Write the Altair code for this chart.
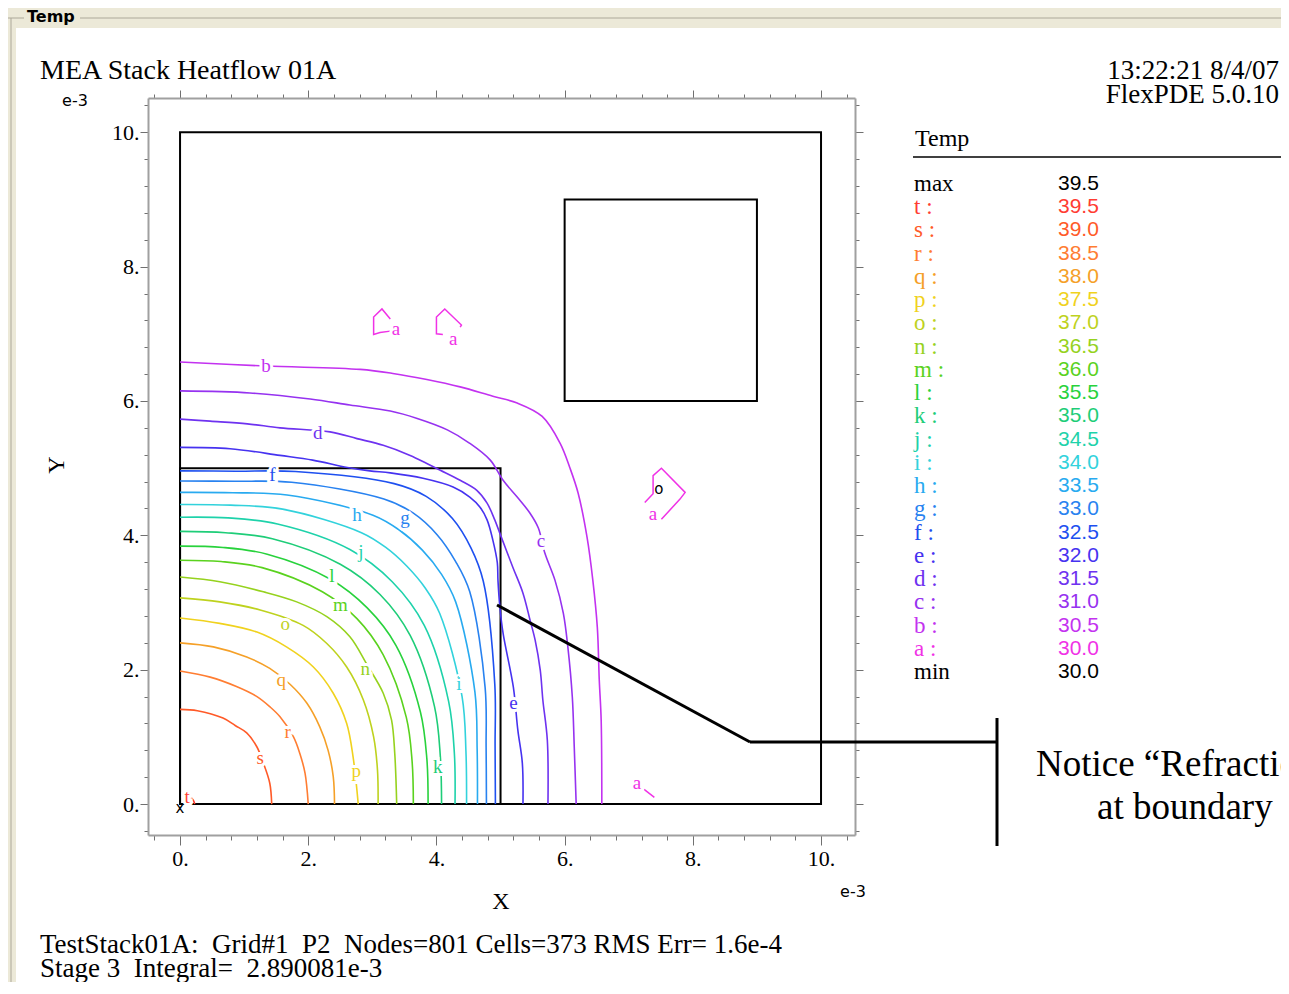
import altair as alt
import pandas as pd

# ---------------- contour data (x, y in units of 1e-3) ----------------
T_X = [0.17, 0.21, 0.23]
T_Y = [0.10, 0.05, 0.00]
S_X = [0.00, 0.27, 0.67, 0.86, 1.04, 1.20, 1.30, 1.40, 1.43]
S_Y = [1.41, 1.39, 1.28, 1.17, 1.06, 0.85, 0.61, 0.31, 0.00]
R_X = [0.00, 0.47, 0.88, 1.20, 1.40, 1.56, 1.77, 1.87, 1.95, 2.00]
R_Y = [1.98, 1.89, 1.75, 1.60, 1.45, 1.30, 1.00, 0.75, 0.46, 0.00]
Q_X = [0.00, 0.52, 1.04, 1.40, 1.72, 1.98, 2.18, 2.31, 2.39, 2.41]
Q_Y = [2.40, 2.34, 2.19, 2.02, 1.78, 1.50, 1.15, 0.80, 0.41, 0.00]
P_X = [0.00, 0.62, 1.20, 1.66, 2.08, 2.39, 2.60, 2.70, 2.78]
P_Y = [2.77, 2.69, 2.56, 2.34, 2.04, 1.65, 1.20, 0.70, 0.00]
O_X = [0.00, 0.62, 1.25, 1.92, 2.29, 2.60, 2.86, 3.02, 3.08, 3.09]
O_Y = [3.07, 3.01, 2.89, 2.66, 2.39, 2.04, 1.55, 1.00, 0.51, 0.00]
N_X = [0.00, 0.62, 1.30, 1.82, 2.29, 2.65, 2.92, 3.17, 3.30, 3.35, 3.38]
N_Y = [3.38, 3.31, 3.16, 3.01, 2.79, 2.49, 2.07, 1.65, 1.25, 0.75, 0.00]
M_X = [0.00, 0.64, 1.28, 2.22, 2.76, 3.17, 3.53, 3.62, 3.64]
M_Y = [3.63, 3.61, 3.52, 3.16, 2.76, 2.22, 1.29, 0.64, 0.00]
L_X = [0.00, 0.67, 1.36, 2.34, 2.92, 3.37, 3.75, 3.85, 3.87]
L_Y = [3.84, 3.82, 3.72, 3.35, 2.92, 2.36, 1.37, 0.68, 0.00]
K_X = [0.00, 0.71, 1.44, 2.50, 3.12, 3.59, 3.97, 4.06, 4.08]
K_Y = [4.06, 4.04, 3.95, 3.57, 3.12, 2.51, 1.45, 0.72, 0.00]
J_X = [0.00, 0.75, 1.52, 2.65, 3.31, 3.81, 4.19, 4.28, 4.29]
J_Y = [4.27, 4.26, 4.17, 3.79, 3.31, 2.66, 1.53, 0.75, 0.00]
I_X = [0.00, 0.79, 1.60, 2.83, 3.21, 3.54, 3.83, 4.05, 4.40, 4.46, 4.47]
I_Y = [4.46, 4.45, 4.39, 4.04, 3.82, 3.54, 3.21, 2.84, 1.60, 0.79, 0.00]
H_X = [0.00, 0.82, 1.67, 3.01, 3.42, 3.78, 4.08, 4.30, 4.60, 4.635, 4.64]
H_Y = [4.64, 4.635, 4.60, 4.30, 4.08, 3.78, 3.42, 3.01, 1.67, 0.82, 0.00]
G_X = [0.00, 0.85, 1.74, 3.18, 3.64, 4.01, 4.30, 4.52, 4.76, 4.775, 4.78]
G_Y = [4.81, 4.805, 4.79, 4.54, 4.33, 4.01, 3.61, 3.16, 1.73, 0.84, 0.00]
F_X = [0.00, 0.87, 1.80, 3.34, 3.84, 4.25, 4.54, 4.73, 4.91, 4.915, 4.92]
F_Y = [4.96, 4.955, 4.95, 4.77, 4.58, 4.25, 3.81, 3.32, 1.79, 0.87, 0.00]
E_X = [0.00, 0.78, 1.56, 2.07, 2.61, 2.96, 3.28, 3.79, 4.26, 4.52, 4.68, 4.79, 4.88, 4.95,
       4.96, 4.99, 5.04, 5.20, 5.27, 5.34, 5.35]
E_Y = [5.31, 5.29, 5.19, 5.12, 5.01, 4.96, 4.93, 4.85, 4.72, 4.57, 4.42, 4.23, 3.93, 3.59,
       3.33, 2.93, 2.54, 1.74, 1.10, 0.61, 0.00]
D_X = [0.00, 0.47, 1.05, 1.56, 2.34, 2.76, 3.17, 3.59, 3.85, 4.06, 4.37, 4.63, 4.79, 4.91,
       4.99, 5.19, 5.35, 5.46, 5.54, 5.62, 5.66, 5.73, 5.74]
D_Y = [5.73, 5.70, 5.66, 5.60, 5.54, 5.44, 5.34, 5.19, 5.07, 4.97, 4.82, 4.67, 4.48, 4.23,
       4.03, 3.53, 3.14, 2.74, 2.44, 1.99, 1.55, 0.95, 0.00]
C_X = [0.00, 1.09, 2.03, 2.65, 3.28, 3.70, 4.17, 4.52, 4.84, 5.04, 5.26, 5.46, 5.59, 5.69,
       5.85, 5.98, 6.05, 6.12, 6.15, 6.18]
C_Y = [6.15, 6.12, 6.03, 5.94, 5.85, 5.74, 5.57, 5.37, 5.12, 4.82, 4.57, 4.33, 4.11, 3.74,
       3.33, 2.84, 2.34, 1.59, 0.85, 0.00]
B_X = [0.00, 1.34, 2.81, 3.32, 3.85, 4.37, 4.88, 5.26, 5.65, 5.93, 6.08, 6.21, 6.35, 6.44,
       6.51, 6.54, 6.57, 6.58]
B_Y = [6.58, 6.52, 6.47, 6.41, 6.32, 6.21, 6.07, 5.97, 5.77, 5.37, 5.01, 4.63, 3.97, 3.33,
       2.63, 1.85, 1.25, 0.00]

# small fragments of level "a" (30.0)
A1_X = [3.28, 3.15, 3.02, 3.02, 3.12, 3.28]
A1_Y = [7.22, 7.37, 7.25, 6.99, 7.02, 7.04]
A2_X = [4.10, 4.00, 4.00, 4.13, 4.39, 4.37]
A2_Y = [6.99, 7.00, 7.25, 7.37, 7.13, 7.10]
A3_X = [7.25, 7.38, 7.38, 7.51, 7.88, 7.80, 7.51]
A3_Y = [4.49, 4.62, 4.89, 5.00, 4.64, 4.54, 4.24]
A4_X = [7.24, 7.40]
A4_Y = [0.22, 0.10]

# legend
LEVELS = ["t", "s", "r", "q", "p", "o", "n", "m", "l", "k", "j", "i", "h", "g", "f", "e", "d", "c", "b", "a"]
LEVEL_VALUES = ["39.5", "39.0", "38.5", "38.0", "37.5", "37.0", "36.5", "36.0", "35.5", "35.0",
                "34.5", "34.0", "33.5", "33.0", "32.5", "32.0", "31.5", "31.0", "30.5", "30.0"]
LEVEL_COLORS = ["#FF3C32", "#FF5A28", "#FF7D32", "#F5A028", "#F0D21E", "#BED21E", "#96D21E",
                "#5AD21E", "#28D23C", "#1ECD78", "#1ED2AA", "#32D2DC", "#28AAF0", "#2882F0",
                "#1E50F0", "#4632F0", "#6E32F0", "#9632F0", "#C332F0", "#F032E6"]
MAX_VALUE = "39.5"
MIN_VALUE = "30.0"

# contour labels
LABEL_TEXT = ["b", "d", "f", "h", "g", "j", "l", "m", "o", "n", "q", "r", "s", "t", "p", "k", "i",
              "e", "c", "a", "a", "a", "a"]
LABEL_X = [1.34, 2.15, 1.44, 2.76, 3.51, 2.82, 2.37, 2.50, 1.64, 2.89, 1.58, 1.68, 1.25, 0.11,
           2.75, 4.02, 4.35, 5.20, 5.63, 3.37, 4.26, 7.38, 7.13]
LABEL_Y = [6.52, 5.52, 4.90, 4.30, 4.26, 3.75, 3.39, 2.96, 2.68, 2.01, 1.85, 1.07, 0.68, 0.10,
           0.49, 0.55, 1.79, 1.50, 3.91, 7.07, 6.93, 4.32, 0.31]

# region boxes
BOX_X0 = [0, 0, 6]
BOX_X1 = [10, 5, 9]
BOX_Y0 = [0, 0, 6]
BOX_Y1 = [10, 5, 9]

# ---------------- build tables ----------------
contours = {"t": (T_X, T_Y), "s": (S_X, S_Y), "r": (R_X, R_Y), "q": (Q_X, Q_Y), "p": (P_X, P_Y),
            "o": (O_X, O_Y), "n": (N_X, N_Y), "m": (M_X, M_Y), "l": (L_X, L_Y), "k": (K_X, K_Y),
            "j": (J_X, J_Y), "i": (I_X, I_Y), "h": (H_X, H_Y), "g": (G_X, G_Y), "f": (F_X, F_Y),
            "e": (E_X, E_Y), "d": (D_X, D_Y), "c": (C_X, C_Y), "b": (B_X, B_Y)}
rows = []
for lev, (xs, ys) in contours.items():
    for i, (x, y) in enumerate(zip(xs, ys)):
        rows.append({"level": lev, "seg": lev, "i": i, "x": x, "y": y})
contour_df = pd.DataFrame(rows)

frag_rows = []
for sid, (xs, ys) in enumerate([(A1_X, A1_Y), (A2_X, A2_Y), (A3_X, A3_Y), (A4_X, A4_Y)]):
    for i, (x, y) in enumerate(zip(xs, ys)):
        frag_rows.append({"level": "a", "seg": f"a{sid}", "i": i, "x": x, "y": y})
frag_df = pd.DataFrame(frag_rows)

label_df = pd.DataFrame({"t": LABEL_TEXT, "x": LABEL_X, "y": LABEL_Y})
box_df = pd.DataFrame({"x0": BOX_X0, "x1": BOX_X1, "y0": BOX_Y0, "y1": BOX_Y1})
marker_df = pd.DataFrame({"t": ["x", "o"], "x": [0.0, 7.47], "y": [-0.06, 4.69]})
corner_df = pd.DataFrame({"x": [0, 10], "y": [0, 10]})

XS = alt.Scale(domain=[-0.5, 10.53], nice=False, zero=False)
YS = alt.Scale(domain=[-0.46, 10.51], nice=False, zero=False)
COLOR = alt.Scale(domain=LEVELS, range=LEVEL_COLORS)
W, H = 707, 737
OX, OY = 148, 98  # page position of plot area
SVG_W, SVG_H = 1273, 974
PAD_L, PAD_T = OX - 8, OY - 8


def px(v):
    return v - OX


def py(v):
    return v - OY


ONE = pd.DataFrame({"k": [0]})


def text(s, x, y, size, font="Liberation Serif", color="black", align="left",
         baseline="alphabetic", weight="normal", angle=None):
    props = dict(text=s, fontSize=size, font=font, color=color, align=align,
                 baseline=baseline, fontWeight=weight)
    if angle is not None:
        props["angle"] = angle
    return alt.Chart(ONE).mark_text(**props).encode(x=alt.value(px(x)), y=alt.value(py(y)))


def seg(x1, y1, x2, y2, color="black", width=1.0):
    return alt.Chart(ONE).mark_rule(color=color, strokeWidth=width).encode(
        x=alt.value(px(x1)), y=alt.value(py(y1)), x2=alt.value(px(x2)), y2=alt.value(py(y2)))


def rect(x1, y1, x2, y2, color):
    return alt.Chart(ONE).mark_rect(color=color).encode(
        x=alt.value(px(x1)), y=alt.value(py(y1)), x2=alt.value(px(x2)), y2=alt.value(py(y2)))


# ---------------- axes ----------------
TICKS = [round(0.4 * k, 1) for k in range(-1, 27)]
MAJOR = "abs(datum.value - 2*round(datum.value/2)) < 0.01"
LBL = MAJOR + " ? format(datum.value, 'd') + '.' : ''"


def tsize(major, minor):
    return {"condition": {"test": MAJOR, "value": major}, "value": minor}


common = dict(values=TICKS, grid=False, title=None, domainColor="#a0a0a0", domainWidth=2,
              tickColor="#707070", tickWidth=1)
ax_bottom = alt.Axis(orient="bottom", labelExpr=LBL, tickSize=tsize(10, 5), labelOverlap=False,
                     labelFont="Liberation Serif", labelFontSize=22, labelColor="black",
                     labelPadding=3, **common)
ax_left = alt.Axis(orient="left", labelExpr=LBL, tickSize=tsize(8, 4), labelOverlap=False,
                   labelFont="Liberation Serif", labelFontSize=22, labelColor="black",
                   labelPadding=1, **common)
ax_top = alt.Axis(orient="top", labels=False, tickSize=tsize(8, 4), **common)
ax_right = alt.Axis(orient="right", labels=False, tickSize=tsize(8, 4), **common)

axes1 = alt.Chart(corner_df).mark_point(opacity=0).encode(
    x=alt.X("x:Q", scale=XS, axis=ax_bottom), y=alt.Y("y:Q", scale=YS, axis=ax_left))
axes2 = alt.Chart(corner_df).mark_point(opacity=0).encode(
    x=alt.X("x:Q", scale=XS, axis=ax_top), y=alt.Y("y:Q", scale=YS, axis=ax_right))

xq = alt.X("x:Q", scale=XS, axis=None)
yq = alt.Y("y:Q", scale=YS, axis=None)

boxes = alt.Chart(box_df).mark_rect(fillOpacity=0, stroke="black", strokeWidth=2).encode(
    x=alt.X("x0:Q", scale=XS, axis=None), x2="x1:Q",
    y=alt.Y("y0:Q", scale=YS, axis=None), y2="y1:Q")

lines = alt.Chart(contour_df).mark_line(strokeWidth=1.6, interpolate="catmull-rom").encode(
    x=xq, y=yq, color=alt.Color("level:N", scale=COLOR, legend=None),
    detail="seg:N", order="i:Q")

frags = alt.Chart(frag_df).mark_line(strokeWidth=1.5).encode(
    x=xq, y=yq, color=alt.Color("level:N", scale=COLOR, legend=None),
    detail="seg:N", order="i:Q")

halo = alt.Chart(label_df).mark_text(font="Liberation Serif", fontSize=19, color="white",
                                     stroke="white", strokeWidth=6, baseline="middle").encode(
    x=xq, y=yq, text="t:N")
labels = alt.Chart(label_df).mark_text(font="Liberation Serif", fontSize=19,
                                       baseline="middle").encode(
    x=xq, y=yq, text="t:N", color=alt.Color("t:N", scale=COLOR, legend=None))
markers = alt.Chart(marker_df).mark_text(font="DejaVu Sans", fontSize=15, color="black",
                                         baseline="middle").encode(x=xq, y=yq, text="t:N")

# ---------------- decorations ----------------
GB = "#ACA899"
BEIGE = "#ECE9D8"
NB = "\u00a0"
deco = [
    rect(8, 8, 1289, 28, BEIGE),
    rect(8, 28, 16, 994, BEIGE),
    seg(8, 18, 24, 18, GB, 1),
    seg(80, 18, 1289, 18, GB, 1),
    seg(11, 18, 11, 994, GB, 1),
    text("Temp", 27, 17, 16, font="DejaVu Sans", weight="bold", baseline="middle"),
]

texts = [
    text("MEA Stack Heatflow 01A", 40, 79, 28),
    text("13:22:21 8/4/07", 1279, 79, 27, align="right"),
    text("FlexPDE 5.0.10", 1279, 103, 27, align="right"),
    text("e-3", 75, 101, 16, font="DejaVu Sans", align="center", baseline="middle"),
    text("e-3", 853, 892, 16, font="DejaVu Sans", align="center", baseline="middle"),
    text("X", 501, 902, 24, align="center", baseline="middle"),
    text("Y", 57, 465, 24, align="center", baseline="middle", angle=270),
    text(f"TestStack01A:{NB} Grid#1{NB} P2{NB} Nodes=801 Cells=373 RMS Err= 1.6e-4", 40, 953, 27),
    text(f"Stage 3{NB} Integral={NB} 2.890081e-3", 40, 977, 27),
    text("Temp", 915, 146, 24),
    seg(913, 157, 1289, 157, "black", 1.5),
    seg(497, 605, 750, 742, "black", 3),
    seg(750, 742, 997, 742, "black", 3),
    seg(997, 718, 997, 846, "black", 3),
    text("Notice \u201cRefraction\u201d", 1036, 776, 37),
    text("at boundary", 1097, 819, 37),
]

legend = []
names = ["max"] + [f"{l} :" for l in LEVELS] + ["min"]
vals = [MAX_VALUE] + LEVEL_VALUES + [MIN_VALUE]
cols = ["black"] + LEVEL_COLORS + ["black"]
for k, (nm, vv, cc) in enumerate(zip(names, vals, cols)):
    yy = 184 + 23.24 * k
    legend.append(text(nm, 914, yy, 23, color=cc, baseline="middle"))
    legend.append(text(vv, 1058, yy, 21, font="Liberation Sans", color=cc, baseline="middle"))

chart = alt.layer(
    *deco, axes1, axes2, boxes, lines, frags, halo, labels, markers, *texts, *legend
).resolve_axis(x="independent", y="independent").properties(
    width=W, height=H, background="white",
    padding={"left": PAD_L, "top": PAD_T, "right": SVG_W - PAD_L - W,
             "bottom": SVG_H - PAD_T - H},
    autosize=alt.AutoSizeParams(type="none"),
).configure_view(stroke=None)

chart.save("out.html", embed_options={"renderer": "svg", "actions": False})
